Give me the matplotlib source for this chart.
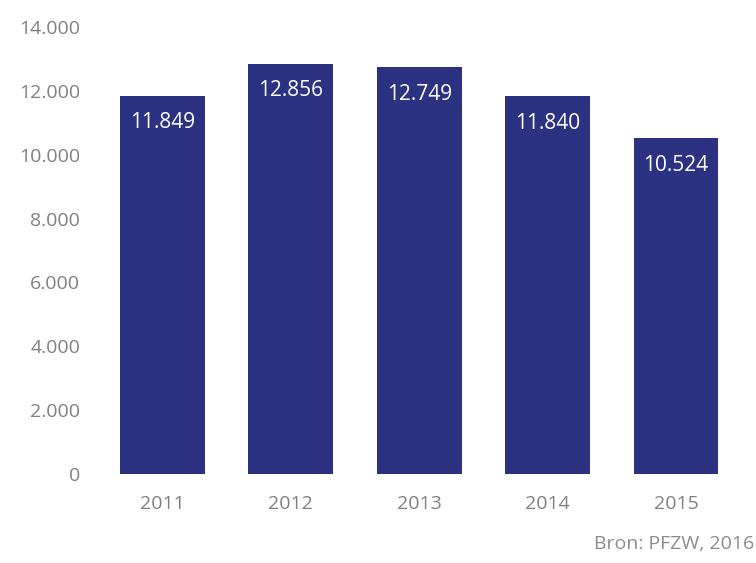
import matplotlib
matplotlib.use("Agg")
import matplotlib.pyplot as plt
from matplotlib.ticker import FuncFormatter

years = ["2011", "2012", "2013", "2014", "2015"]
values = [11849, 12856, 12749, 11840, 10524]
yticks = [0, 2000, 4000, 6000, 8000, 10000, 12000, 14000]
source = "Bron: PFZW, 2016"

plt.rcParams['font.family'] = ['Open Sans', 'DejaVu Sans']

fig = plt.figure(figsize=(7.56, 5.63), dpi=100)
ax = fig.add_axes([0.13, 0.158, 0.849, 0.794])
x = range(len(years))
bars = ax.bar(x, values, width=0.66, color="#2B3282")

def fmt(v):
    return f"{int(v):,}".replace(",", ".")

for xi, v in zip(x, values):
    ax.annotate(fmt(v), (xi, v), xytext=(0, -12), textcoords="offset points",
                ha="center", va="top", color="white", fontsize=15)

ax.set_xlim(-0.5, len(years) - 0.5)
ax.set_ylim(0, 14000)
ax.set_yticks(yticks)
ax.yaxis.set_major_formatter(FuncFormatter(lambda v, p: fmt(v)))
ax.set_xticks(list(x))
ax.set_xticklabels(years)
for s in ax.spines.values():
    s.set_visible(False)
ax.tick_params(length=0, colors="#808080", labelsize=14)
ax.tick_params(axis="y", pad=13)
ax.tick_params(axis="x", pad=15)

fig.text(0.998, 0.018, source, ha="right", va="bottom", color="#8c8c8c", fontsize=14)

fig.savefig("out.png", dpi=100)
